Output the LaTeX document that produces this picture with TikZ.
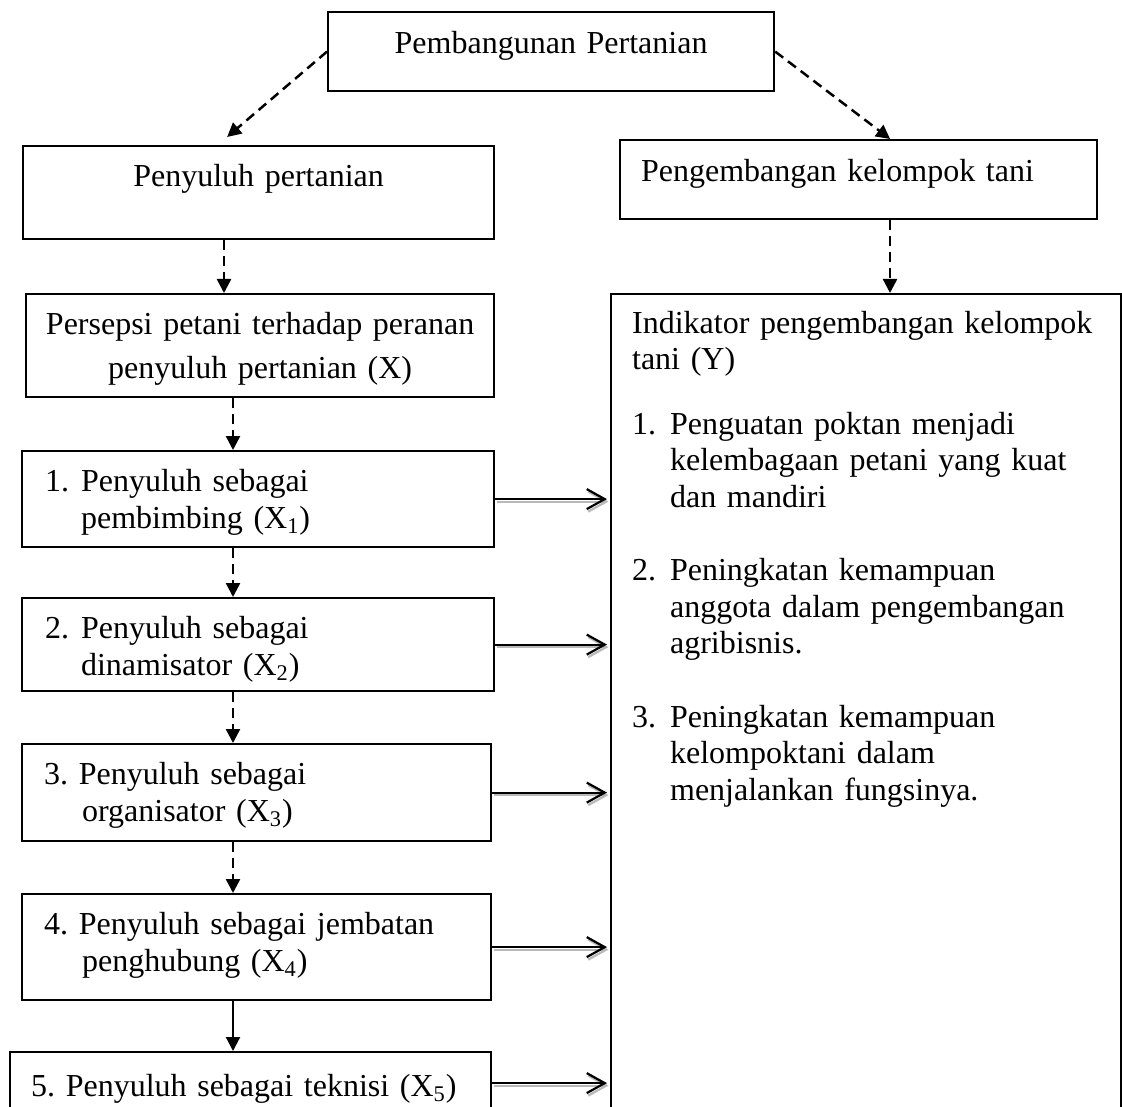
\documentclass[tikz,border=0pt]{standalone}
\usepackage{fontspec}
\setmainfont{Liberation Serif}
\usepackage{tikz}
\usetikzlibrary{positioning,calc}
\usetikzlibrary{arrows.meta}
\frenchspacing

\begin{document}
\begin{tikzpicture}[x=0.5pt,y=-0.5pt,
      box/.style={draw, line width=1.1pt, anchor=north west, inner ysep=2pt,
         text height=12pt, font=\fontsize{16}{18.5}\selectfont},
      dasharrow/.style={line width=1.25pt, dash pattern=on 5pt off 3pt,
         -{Triangle[length=7pt,width=7pt]}},
      fullarrow/.style={line width=1.1pt, -{Triangle[length=7pt,width=7pt]}},
      linkarrow/.style={line width=1.1pt, shorten >=1.5pt,
         -{Straight Barb[length=9pt,width=10pt]}},
      linkshadow/.style={linkarrow, gray!55,
         transform canvas={xshift=0.75pt,yshift=-1.25pt}}]

   \useasboundingbox (0,0) rectangle (1122,1106);

   % top
   \node[box, text width=223pt, inner xsep=0pt, align=center,
      minimum height=39.5pt, text depth=10.5pt] (p0) at (327,11)
      {Pembangunan Pertanian};

   % left column
   \node[box, text width=235.5pt, inner xsep=0pt, align=center,
      minimum height=46.5pt, text depth=18.5pt] (p1) at (22,145)
      {Penyuluh pertanian};
   \node[box, text width=234pt, inner xsep=0pt, align=center,
      minimum height=51.5pt, text depth=23.5pt] (p2) at (25,293)
      {Persepsi petani terhadap peranan\\[3.5pt]
       penyuluh pertanian (X)};

   \node[box, text width=213pt, inner xsep=11.5pt, align=left,
      minimum height=48pt, text depth=20pt] (x1) at (21,450)
      {\makebox[18pt][l]{1.}Penyuluh sebagai\\
       \hspace*{18pt}pembimbing (X\textsubscript{1})};
   \node[box, text width=213pt, inner xsep=11.5pt, align=left,
      minimum height=46.5pt, text depth=18.5pt] (x2) at (21,597)
      {\makebox[18pt][l]{2.}Penyuluh sebagai\\
       \hspace*{18pt}dinamisator (X\textsubscript{2})};
   \node[box, text width=212.5pt, inner xsep=11pt, align=left,
      minimum height=48.5pt, text depth=20.5pt] (x3) at (21,743)
      {3. Penyuluh sebagai\\
       \hspace*{19pt}organisator (X\textsubscript{3})};
   \node[box, text width=212.5pt, inner xsep=11pt, align=left,
      minimum height=53pt, text depth=25pt] (x4) at (21,893)
      {4. Penyuluh sebagai jembatan\\
       \hspace*{19pt}penghubung (X\textsubscript{4})};
   \node[box, text width=219.5pt, inner xsep=10.5pt, align=left,
      minimum height=31pt, text height=15pt, text depth=2pt] (x5) at (9,1051)
      {5. Penyuluh sebagai teknisi (X\textsubscript{5})};

   % right column
   \node[box, text width=217.5pt, inner xsep=10.5pt, align=left,
      minimum height=39.5pt, text depth=10.5pt] (k1) at (619,139)
      {Pengembangan kelompok tani};
   \node[box, text width=234pt, inner xsep=10.5pt, align=left,
      minimum height=433.5pt, text depth=406.5pt,
      font=\fontsize{16}{18.25}\selectfont] (k2) at (610,293)
      {Indikator pengembangan kelompok\\
       tani (Y)\\[14pt]
       \makebox[19pt][l]{1.}Penguatan poktan menjadi\\
       \hspace*{19pt}kelembagaan petani yang kuat\\
       \hspace*{19pt}dan mandiri\\[18.5pt]
       \makebox[19pt][l]{2.}Peningkatan kemampuan\\
       \hspace*{19pt}anggota dalam pengembangan\\
       \hspace*{19pt}agribisnis.\\[18.5pt]
       \makebox[19pt][l]{3.}Peningkatan kemampuan\\
       \hspace*{19pt}kelompoktani dalam\\
       \hspace*{19pt}menjalankan fungsinya.};

   % arrow lines
   \coordinate (s0) at (224,0);
   \coordinate (s1) at (233,0);
   \coordinate (s2) at (890,0);

   \draw[dasharrow] (p0.west) -- ([shift={(-15.75pt,4pt)}]p1.north);
   \draw[dasharrow] (p0.east) -- ([xshift=15.75pt]k1.north);
   \draw[dasharrow] (p1.south -| s0) -- (p2.north -| s0);
   \draw[dasharrow] (k1.south -| s2) -- (k2.north -| s2);

   \foreach \a/\b in {p2/x1, x1/x2, x2/x3, x3/x4}
      \draw[dasharrow] (\a.south -| s1) -- (\b.north -| s1);
   \draw[fullarrow] (x4.south -| s1) -- (x5.north -| s1);

   % links to the indicators
   \foreach \i in {1,...,5} {
      \draw[linkshadow] (x\i.east) -- (x\i.east -| k2.west);
      \draw[linkarrow] (x\i.east) -- (x\i.east -| k2.west);
   }
\end{tikzpicture}
\end{document}
